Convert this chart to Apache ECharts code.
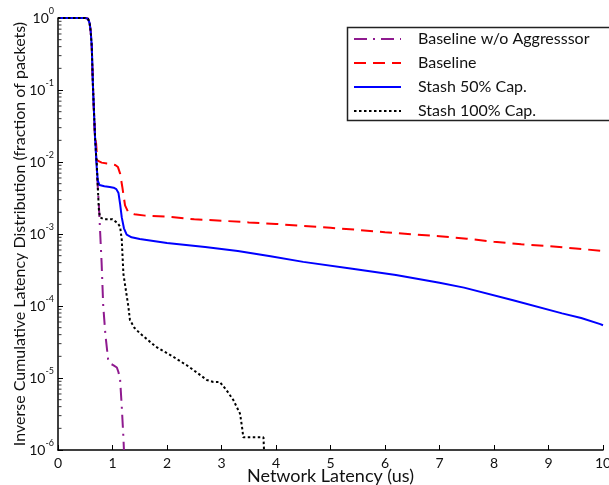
<!DOCTYPE html>
<html lang="en">
<head>
    <meta charset="UTF-8">
    <title>Inverse cumulative latency distribution</title>
    <script src="https://cdn.jsdelivr.net/npm/echarts@6.0.0/dist/echarts.min.js"></script>
    <style>
        html, body { margin: 0; padding: 0; background: #fff; }
        #chart { width: 609px; height: 485px; }
    </style>
</head>
<body>
    <div id="chart"></div>
    <script>
        // x = latency (us), y = fraction of packets
        const xTicks = [0, 1, 2, 3, 4, 5, 6, 7, 8, 9, 10];
        const yDecades = [-6, -5, -4, -3, -2, -1, 0];

        // shared head of every curve (everything sits at 1 until ~0.55us)
        const commonHead = [
            [0, 1], [0.5, 1], [0.55, 0.98], [0.58, 0.85], [0.6, 0.65],
            [0.62, 0.4], [0.64, 0.12], [0.66, 0.05], [0.68, 0.022]
        ];

        const noAggressor = [
            [0.70, 0.012], [0.72, 0.006], [0.75, 0.0025], [0.77, 0.0012],
            [0.80, 0.0004], [0.83, 0.0001], [0.87, 0.00004], [0.92, 0.000018],
            [0.95, 0.000016], [1.02, 0.000015], [1.08, 0.000014], [1.11, 0.000012],
            [1.14, 0.0000094], [1.17, 0.000004], [1.2, 0.0000015], [1.21, 0.000001]
        ];

        const baseline = [
            [0.70, 0.018], [0.72, 0.0105], [0.8, 0.0098], [0.9, 0.0095],
            [1.0, 0.0093], [1.05, 0.0091], [1.1, 0.0085], [1.14, 0.0069],
            [1.18, 0.0045], [1.23, 0.0025], [1.29, 0.0020], [1.4, 0.00188],
            [1.6, 0.0018], [2.0, 0.00174], [2.5, 0.0016], [3.0, 0.00153],
            [3.5, 0.00145], [4.0, 0.00138], [4.5, 0.00129], [5.0, 0.00122],
            [5.5, 0.00114], [6.0, 0.00106], [6.5, 0.00099], [7.0, 0.00093],
            [7.5, 0.00086], [8.0, 0.00078], [8.5, 0.00072], [9.0, 0.00068],
            [9.5, 0.00063], [10, 0.00058]
        ];

        const stash50 = [
            [0.70, 0.012], [0.71, 0.0085], [0.73, 0.0055], [0.76, 0.0048],
            [0.85, 0.0046], [0.95, 0.0045], [1.02, 0.0044], [1.07, 0.0042],
            [1.11, 0.0037], [1.14, 0.0026], [1.17, 0.0017], [1.21, 0.0012],
            [1.26, 0.00098], [1.35, 0.0009], [1.5, 0.00085], [2.0, 0.00075],
            [2.7, 0.00066], [3.3, 0.00058], [3.9, 0.00049], [4.5, 0.00041],
            [5.4, 0.00033], [6.2, 0.00027], [7.0, 0.00021], [7.45, 0.00018],
            [8.35, 0.00012], [9.25, 0.000079], [9.6, 0.000068], [9.95, 0.000056],
            [10, 0.000054]
        ];

        const stash100 = [
            [0.70, 0.012], [0.71, 0.01], [0.73, 0.0045], [0.75, 0.0022],
            [0.77, 0.0017], [0.85, 0.0016], [1.0, 0.0016], [1.05, 0.0015],
            [1.1, 0.0014], [1.14, 0.00126], [1.17, 0.00083], [1.2, 0.00028],
            [1.26, 0.00014], [1.29, 0.0001], [1.32, 0.000064], [1.4, 0.00005],
            [1.5, 0.000042], [1.8, 0.000027], [2.1, 0.00002], [2.4, 0.0000144],
            [2.73, 0.0000094], [2.85, 0.0000088], [2.97, 0.0000088], [3.09, 0.0000068],
            [3.22, 0.0000049], [3.34, 0.0000032], [3.38, 0.000002], [3.40, 0.0000015],
            [3.6, 0.0000015], [3.77, 0.0000015], [3.78, 0.000001]
        ];

        const names = ['Baseline w/o Aggresssor', 'Baseline', 'Stash 50% Cap.', 'Stash 100% Cap.'];

        // log minor ticks (2..9 in each decade) along the left axis
        const minorTicks = [];
        for (let k = -6; k < 0; k++) {
            for (let m = 2; m <= 9; m++) minorTicks.push([0, m * Math.pow(10, k)]);
        }

        const font = 'Lato, "Open Sans", sans-serif';

        function curve(name, pts, color, dash) {
            return {
                name: name,
                type: 'line',
                data: commonHead.concat(pts),
                symbol: 'none',
                lineStyle: { color: color, width: 2, type: dash },
                itemStyle: { color: color },
                z: 3
            };
        }

        const chart = echarts.init(document.getElementById('chart'));
        chart.setOption({
            animation: false,
            textStyle: { fontFamily: font },
            grid: { left: 58, right: 6, top: 18, bottom: 35, containLabel: false, outerBoundsMode: 'none' },
            legend: {
                data: names,
                orient: 'vertical',
                left: 345,
                top: 25,
                padding: [6, 4, 6, 8],
                itemWidth: 47,
                itemHeight: 14,
                itemGap: 8,
                itemStyle: { opacity: 0 },
                textStyle: { fontFamily: font, fontSize: 16, lineHeight: 14, color: '#111', padding: [0, 0, 0, 12] }
            },
            // legend frame, open at the right where the picture is cut
            graphic: [{
                type: 'rect',
                left: 345,
                top: 25,
                shape: { width: 290, height: 93 },
                style: { fill: 'none', stroke: '#222', lineWidth: 1.5 },
                z: 10
            }],
            xAxis: {
                type: 'value',
                min: 0,
                max: 10,
                interval: 1,
                name: 'Network Latency (us)',
                nameLocation: 'middle',
                nameGap: 17,
                nameMoveOverlap: false,
                nameTextStyle: { fontFamily: font, fontSize: 18, color: '#111' },
                axisLine: { lineStyle: { color: '#000', width: 1.5 } },
                axisTick: { inside: true, length: 5, lineStyle: { color: '#000' } },
                axisLabel: {
                    fontSize: 14, color: '#111', margin: 6,
                    formatter: v => xTicks.includes(v) ? String(v) : ''
                },
                splitLine: { show: false }
            },
            yAxis: {
                type: 'log',
                logBase: 10,
                min: Math.pow(10, yDecades[0]),
                max: Math.pow(10, yDecades[yDecades.length - 1]),
                interval: 1,
                name: 'Inverse Cumulative Latency Distribution (fraction of packets)',
                nameLocation: 'middle',
                nameGap: 30,
                nameMoveOverlap: false,
                nameTextStyle: { fontFamily: font, fontSize: 16, color: '#111' },
                axisLine: { show: true, lineStyle: { color: '#000', width: 1.5 } },
                axisTick: { inside: true, length: 5, lineStyle: { color: '#000' } },
                axisLabel: {
                    margin: 4,
                    formatter: v => '{b|10}{s|' + Math.round(Math.log10(v)) + '}',
                    rich: {
                        b: { fontFamily: font, fontSize: 14, color: '#111' },
                        s: { fontFamily: font, fontSize: 9, color: '#111', padding: [0, 0, 13, 0] }
                    }
                },
                splitLine: { show: false }
            },
            series: [
                curve(names[0], noAggressor, '#8f1a8f', [13, 6, 2, 6]),
                curve(names[1], baseline, '#ff0000', [12, 7]),
                curve(names[2], stash50, '#0000ff', 'solid'),
                curve(names[3], stash100, '#000000', [2.5, 2.5]),
                {
                    name: 'minor',
                    type: 'scatter',
                    data: minorTicks,
                    symbol: 'rect',
                    symbolSize: [3, 1],
                    symbolOffset: [2, 0],
                    itemStyle: { color: '#000' },
                    silent: true,
                    clip: false,
                    z: 1
                }
            ]
        });
    </script>
</body>
</html>
